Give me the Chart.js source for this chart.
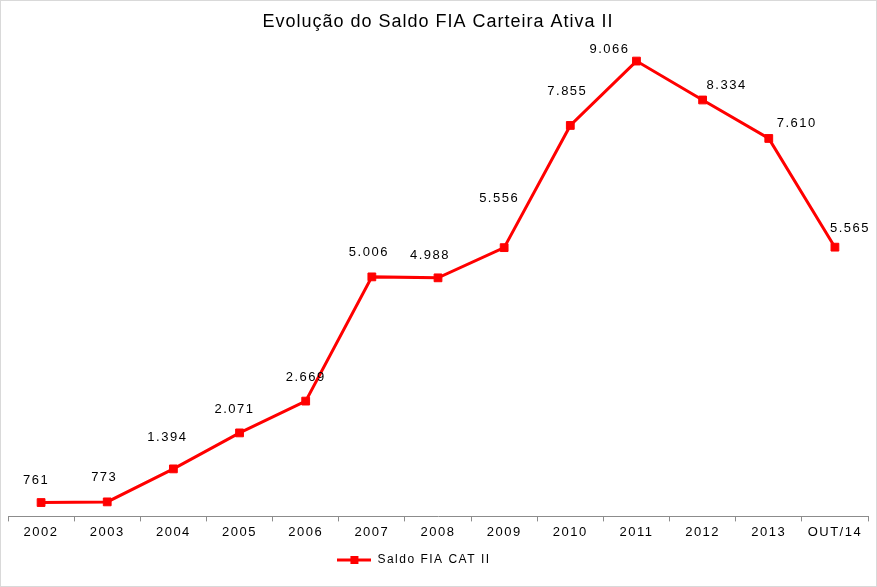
<!DOCTYPE html>
<html>
<head>
<meta charset="utf-8">
<script src="https://cdn.jsdelivr.net/npm/chart.js@4/dist/chart.umd.min.js"></script>
<style>
  html, body { margin: 0; padding: 0; background: #fff; }
  #wrap { width: 877px; height: 587px; position: relative; }
</style>
</head>
<body>
<div id="wrap"><canvas id="c" width="877" height="587"></canvas></div>
<script>
const categories = ['2002','2003','2004','2005','2006','2007','2008','2009','2010','2011','2012','2013','OUT/14'];
const saldoValues = [761, 773, 1394, 2071, 2669, 5006, 4988, 5556, 7855, 9066, 8334, 7610, 5565];
const seriesName = 'Saldo FIA CAT II';
const chartTitle = 'Evolução do Saldo FIA Carteira Ativa II';

const FONT = '"Liberation Sans", Arial, sans-serif';
const RED = '#FF0000';
const SPACING = '1.5px';
const TITLE_SPACING = '1px';

function fmt(v) {
  return v.toLocaleString('de-DE');
}

// legend marker: line with a square in the middle
const legendIcon = document.createElement('canvas');
legendIcon.width = 34; legendIcon.height = 10;
(function(){
  const g = legendIcon.getContext('2d');
  g.strokeStyle = RED; g.lineWidth = 3;
  g.beginPath(); g.moveTo(0, 5); g.lineTo(34, 5); g.stroke();
  g.fillStyle = RED; g.fillRect(13, 1, 8, 8);
})();

const spacingPlugin = {
  id: 'letterSpacing',
  beforeUpdate(chart) { chart.ctx.letterSpacing = SPACING; },
  beforeLayout(chart) { chart.ctx.letterSpacing = SPACING; },
  beforeDraw(chart) { chart.ctx.letterSpacing = SPACING; }
};

const labelPlugin = {
  id: 'valueLabels',
  afterDatasetsDraw(chart, args, opts) {
    const ctx = chart.ctx;
    const meta = chart.getDatasetMeta(0);
    const nudges = opts.nudges || [];
    ctx.save();
    ctx.letterSpacing = SPACING;
    ctx.font = '13px ' + FONT;
    ctx.fillStyle = '#000';
    ctx.textAlign = 'center';
    ctx.textBaseline = 'middle';
    meta.data.forEach((pt, i) => {
      const n = nudges[i] || [0, -23];
      ctx.fillText(fmt(chart.data.datasets[0].data[i]), pt.x + n[0], pt.y + n[1]);
    });
    ctx.restore();
  }
};

const borderPlugin = {
  id: 'outerBorder',
  afterDraw(chart) {
    const ctx = chart.ctx;
    ctx.save();
    ctx.strokeStyle = '#d9d9d9';
    ctx.lineWidth = 1;
    ctx.strokeRect(0.5, 0.5, chart.width - 1, chart.height - 1);
    ctx.restore();
  }
};

const chart = new Chart(document.getElementById('c'), {
  type: 'line',
  data: {
    labels: categories,
    datasets: [{
      label: seriesName,
      data: saldoValues,
      borderColor: RED,
      backgroundColor: RED,
      borderWidth: 3,
      pointStyle: 'rect',
      pointRadius: 5.5,
      pointBorderWidth: 1,
      pointBackgroundColor: RED,
      pointBorderColor: RED,
      tension: 0,
      fill: false
    }]
  },
  options: {
    responsive: false,
    animation: false,
    devicePixelRatio: 1,
    layout: { padding: { left: 8, right: 9, top: 0, bottom: 12 } },
    plugins: {
      title: {
        display: true,
        text: chartTitle,
        color: '#000',
        font: { family: FONT, size: 18, weight: 'normal' },
        padding: { top: 11, bottom: 7 }
      },
      legend: {
        display: true,
        position: 'bottom',
        labels: {
          color: '#000',
          font: { family: FONT, size: 12 },
          usePointStyle: true,
          pointStyle: legendIcon,
          pointStyleWidth: 34,
          boxHeight: 10,
          padding: 10
        }
      },
      tooltip: { enabled: false },
      valueLabels: {
        nudges: [[-5,-22],[-3,-24],[-6,-31],[-5,-23],[0,-24],[-3,-24],[-8,-22],[-5,-49],[-3,-34],[-27,-12],[24,-15],[28,-15],[15,-19]]
      }
    },
    scales: {
      x: {
        offset: true,
        grid: {
          display: true,
          offset: true,
          drawOnChartArea: false,
          drawTicks: true,
          tickLength: 5,
          color: '#8c8c8c'
        },
        border: { display: true, color: '#8c8c8c', width: 1 },
        ticks: {
          color: '#000',
          font: { family: FONT, size: 13 },
          padding: 3,
          maxRotation: 0,
          autoSkip: false
        }
      },
      y: {
        display: false,
        min: 500,
        max: 9470
      }
    }
  },
  plugins: [spacingPlugin, labelPlugin, borderPlugin]
});

// title with its own (tighter) letter spacing; legend shifted left as in the original
if (chart.titleBlock) {
  const origDraw = chart.titleBlock.draw;
  chart.titleBlock.draw = function() {
    const ctx = this.ctx;
    ctx.save();
    ctx.letterSpacing = TITLE_SPACING;
    origDraw.apply(this, arguments);
    ctx.restore();
  };
}
if (chart.legend) {
  const origLegendDraw = chart.legend.draw;
  chart.legend.draw = function() {
    const ctx = this.ctx;
    ctx.save();
    ctx.translate(-24, 1);
    origLegendDraw.apply(this, arguments);
    ctx.restore();
  };
}
chart.draw();
</script>
</body>
</html>
